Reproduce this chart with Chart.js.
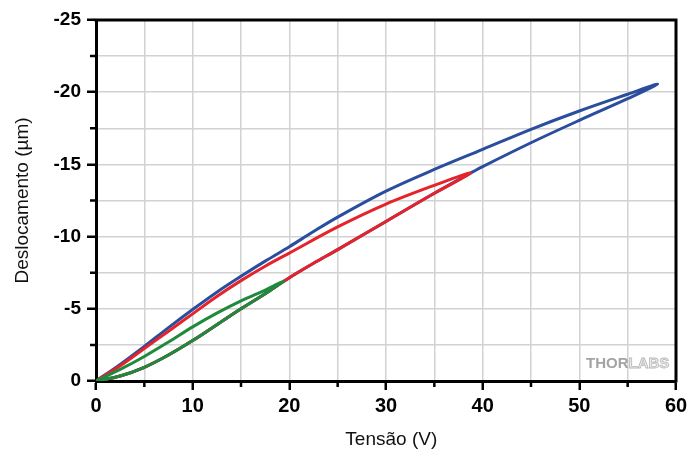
<!DOCTYPE html>
<html>
<head>
<meta charset="utf-8">
<script src="https://cdn.jsdelivr.net/npm/chart.js@4/dist/chart.umd.min.js"></script>
<style>
  body { margin: 0; background: #fff; }
</style>
</head>
<body>
<canvas id="myChart" width="688" height="455"></canvas>
<script>
// Tensão (V) / Deslocamento (µm)
// ascending branch is shared by the three loops
const greenUpV = [0, 2.5, 5, 7.5, 10, 12.5, 15, 17.5, 19.4]
const greenUpD = [0, -0.35, -0.95, -1.8, -2.8, -3.9, -5.0, -6.05, -6.9]
const greenDownV = [17.5, 15, 12.5, 10, 7.5, 5, 2.5, 0]
const greenDownD = [-6.3, -5.55, -4.7, -3.75, -2.7, -1.7, -0.8, 0]

const redUpV = [0, 2.5, 5, 7.5, 10, 12.5, 15, 17.5, 20, 22.5, 25, 30, 35, 38.75]
const redUpD = [0, -0.35, -0.95, -1.8, -2.8, -3.9, -5.0, -6.05, -7.15, -8.15, -9.1, -11.05, -13.0, -14.4]
const redDownV = [35, 30, 25, 20, 17.5, 15, 12.5, 10, 7.5, 5, 2.5, 0]
const redDownD = [-13.55, -12.25, -10.67, -8.86, -7.95, -6.95, -5.85, -4.65, -3.45, -2.25, -1.05, 0]

const blueUpV = [0, 2.5, 5, 7.5, 10, 12.5, 15, 17.5, 20, 22.5, 25, 30, 35, 38.75, 40, 45, 50, 55, 58.1]
const blueUpD = [0, -0.35, -0.95, -1.8, -2.8, -3.9, -5.0, -6.05, -7.15, -8.15, -9.1, -11.05, -13.0, -14.4, -14.85, -16.5, -18.05, -19.55, -20.55]
const blueDownV = [55, 50, 45, 40, 35, 30, 25, 22.5, 20, 17.5, 15, 12.5, 10, 7.5, 5, 2.5, 0]
const blueDownD = [-19.86, -18.7, -17.43, -16.04, -14.65, -13.15, -11.35, -10.35, -9.3, -8.3, -7.25, -6.15, -4.95, -3.7, -2.4, -1.15, 0]

const FONT = "'Liberation Sans', Arial, Helvetica, sans-serif"

function loop(upV, upD, downV, downD) {
    let pts = []
    for (let i = 0; i < upV.length; i++) pts.push({ x: upV[i], y: upD[i] })
    for (let i = 0; i < downV.length; i++) pts.push({ x: downV[i], y: downD[i] })
    return pts
}

// top/right frame + short minor ticks
const frame = {
    id: 'frame',
    afterDraw(chart) {
        const { ctx, chartArea, scales } = chart
        ctx.save()
        ctx.strokeStyle = '#000'
        ctx.lineWidth = 3
        ctx.beginPath()
        ctx.moveTo(chartArea.left - 1.5, chartArea.top)
        ctx.lineTo(chartArea.right, chartArea.top)
        ctx.lineTo(chartArea.right, chartArea.bottom + 1.5)
        ctx.stroke()
        ctx.lineWidth = 2.5
        ctx.beginPath()
        scales.x.ticks.forEach(t => {
            if (t.value % 10 !== 0) {
                const px = scales.x.getPixelForValue(t.value)
                ctx.moveTo(px, chartArea.bottom)
                ctx.lineTo(px, chartArea.bottom + 6)
            }
        })
        scales.y.ticks.forEach(t => {
            if (t.value % 5 !== 0) {
                const py = scales.y.getPixelForValue(t.value)
                ctx.moveTo(chartArea.left, py)
                ctx.lineTo(chartArea.left - 6, py)
            }
        })
        ctx.stroke()
        ctx.restore()
    }
}

const watermark = {
    id: 'watermark',
    beforeDatasetsDraw(chart) {
        const { ctx, chartArea } = chart
        ctx.save()
        ctx.font = 'bold 15px ' + FONT
        ctx.textBaseline = 'alphabetic'
        const x0 = chartArea.right - 90, y0 = chartArea.bottom - 13
        ctx.fillStyle = '#a4a4a4'
        ctx.fillText('THOR', x0, y0)
        const w = ctx.measureText('THOR').width
        ctx.fillStyle = '#ececec'
        ctx.fillText('LABS', x0 + w, y0)
        ctx.strokeStyle = '#b8b8b8'
        ctx.lineWidth = 0.8
        ctx.strokeText('LABS', x0 + w, y0)
        ctx.restore()
    }
}

const data = {
    datasets: [{
        label: '20 V',
        data: loop(greenUpV, greenUpD, greenDownV, greenDownD),
        borderColor: '#1f8a3c'
    }, {
        label: '40 V',
        data: loop(redUpV, redUpD, redDownV, redDownD),
        borderColor: '#e4232b'
    }, {
        label: '60 V',
        data: loop(blueUpV, blueUpD, blueDownV, blueDownD),
        borderColor: '#2a4d9e'
    }]
}
data.datasets.forEach(d => {
    d.showLine = true
    d.borderWidth = 3
    d.pointRadius = 0
    d.tension = 0.35
    d.fill = false
})

const config = {
    type: 'scatter',
    data: data,
    options: {
        responsive: false,
        animation: false,
        layout: { padding: { left: 0, right: 12, top: 20, bottom: 4 } },
        plugins: { legend: { display: false }, tooltip: { enabled: false } },
        scales: {
            x: {
                min: 0, max: 60,
                afterFit(s) { s.height = 70; s.paddingLeft = 0; s.paddingRight = 0 },
                ticks: {
                    stepSize: 5, padding: 4, color: '#000', maxRotation: 0,
                    font: { family: FONT, size: 20, weight: 'bold' },
                    callback: v => v % 10 === 0 ? String(v) : ''
                },
                grid: {
                    color: '#d2d2d2', lineWidth: 1.5, tickLength: 9, tickWidth: 2.5,
                    tickColor: c => c.tick && c.tick.value % 10 === 0 ? '#000' : 'rgba(0,0,0,0)'
                },
                border: { color: '#000', width: 3 },
                title: {
                    display: true, text: '  Tensão (V)', color: '#111',
                    font: { family: FONT, size: 19 }, padding: { top: 0, bottom: 0 }
                }
            },
            y: {
                min: -25, max: 0, reverse: true,
                afterFit(s) { s.width = 96 },
                ticks: {
                    stepSize: 2.5, padding: 6, color: '#000',
                    font: { family: FONT, size: 19, weight: 'bold' },
                    callback: v => v % 5 === 0 ? (v === 0 ? '0' : String(v)) : ''
                },
                grid: {
                    color: '#d2d2d2', lineWidth: 1.5, tickLength: 9, tickWidth: 2.5,
                    tickColor: c => c.tick && c.tick.value % 5 === 0 ? '#000' : 'rgba(0,0,0,0)'
                },
                border: { color: '#000', width: 3 },
                title: {
                    display: true, text: 'Deslocamento (µm)', color: '#111',
                    font: { family: FONT, size: 19 }, padding: { top: 11, bottom: 0 }
                }
            }
        }
    },
    plugins: [frame, watermark]
}

const myChart = new Chart(document.querySelector('#myChart'), config)
</script>
</body>
</html>
